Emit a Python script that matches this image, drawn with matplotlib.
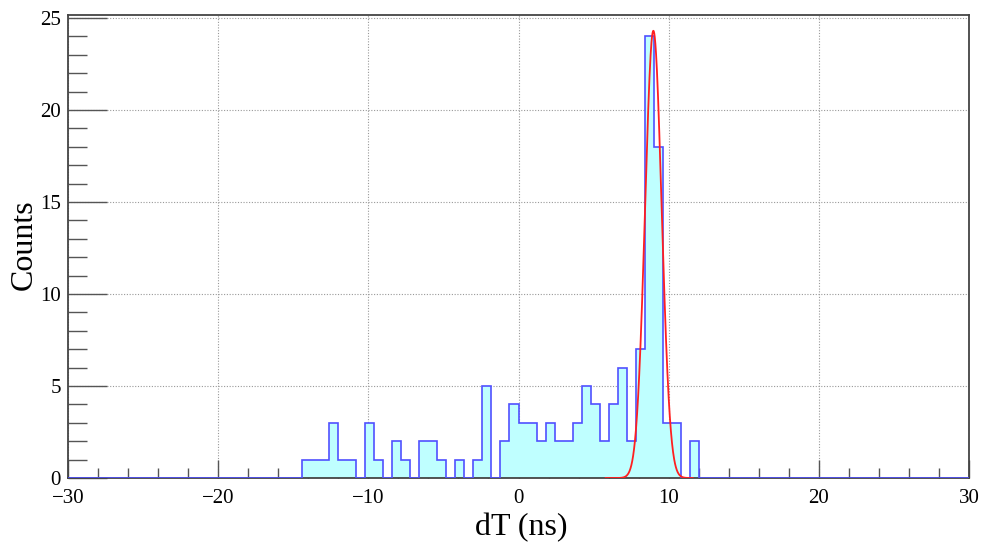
import numpy as np
import matplotlib
matplotlib.use("Agg")
import matplotlib.pyplot as plt
from matplotlib.ticker import MultipleLocator

plt.rcParams['font.family'] = ['Liberation Serif', 'DejaVu Serif']

# histogram: 100 bins of 0.6 ns from -30 to 30, only -14.4 .. 12.0 filled
x_min, x_max, n_bins = -30.0, 30.0, 100
first_edge = -14.4
filled_counts = [1, 1, 1, 3, 1, 1, 0, 3, 1, 0,
                 2, 1, 0, 2, 2, 1, 0, 1, 0, 1,
                 5, 0, 2, 4, 3, 3, 2, 3, 2, 2,
                 3, 5, 4, 2, 4, 6, 2, 7, 24, 18,
                 3, 3, 0, 2]

# gaussian fit to the peak
fit_amp = 24.3
fit_mean = 8.98
fit_sigma = 0.55
fit_lo, fit_hi = 5.8, 11.6

edges = np.linspace(x_min, x_max, n_bins + 1)
counts = np.zeros(n_bins)
start = int(round((first_edge - x_min) / (edges[1] - edges[0])))
counts[start:start + len(filled_counts)] = filled_counts

fig = plt.figure(figsize=(9.81, 5.48), dpi=100)
ax = fig.add_axes([0.0693, 0.1277, 0.9185, 0.845])

ax.stairs(counts, edges, fill=True, color='#bfffff', zorder=2)
ax.stairs(counts, edges, color='#5050ff', lw=1.2, zorder=3)

xf = np.linspace(fit_lo, fit_hi, 400)
yf = fit_amp * np.exp(-0.5 * ((xf - fit_mean) / fit_sigma) ** 2)
ax.plot(xf, yf, color='#ff2020', lw=1.3, zorder=4)

ax.set_xlim(x_min, x_max)
ax.set_ylim(0, 25.16)

ax.xaxis.set_major_locator(MultipleLocator(10))
ax.xaxis.set_minor_locator(MultipleLocator(2))
ax.yaxis.set_major_locator(MultipleLocator(5))
ax.yaxis.set_minor_locator(MultipleLocator(1))

ax.tick_params(axis='x', which='major', direction='in', length=13, width=1,
               color='#555555', labelsize=15, pad=8)
ax.tick_params(axis='x', which='minor', direction='in', length=7, width=1,
               color='#555555')
ax.tick_params(axis='y', which='major', direction='in', length=28, width=1,
               color='#555555', labelsize=15, pad=5)
ax.tick_params(axis='y', which='minor', direction='in', length=14, width=1,
               color='#555555')

ax.grid(True, which='major', linestyle=(0, (1, 1.5)), color='#999999', lw=0.8,
        zorder=1)
ax.set_axisbelow(True)

for s in ax.spines.values():
    s.set_color('#444444')
    s.set_linewidth(1.3)

ax.set_xlabel('dT (ns)', fontsize=23, va='center')
ax.set_ylabel('Counts', fontsize=23, va='center')
ax.xaxis.set_label_coords(0.503, -0.106)
ax.yaxis.set_label_coords(-0.049, 0.503)

fig.savefig('out.png', dpi=100)
